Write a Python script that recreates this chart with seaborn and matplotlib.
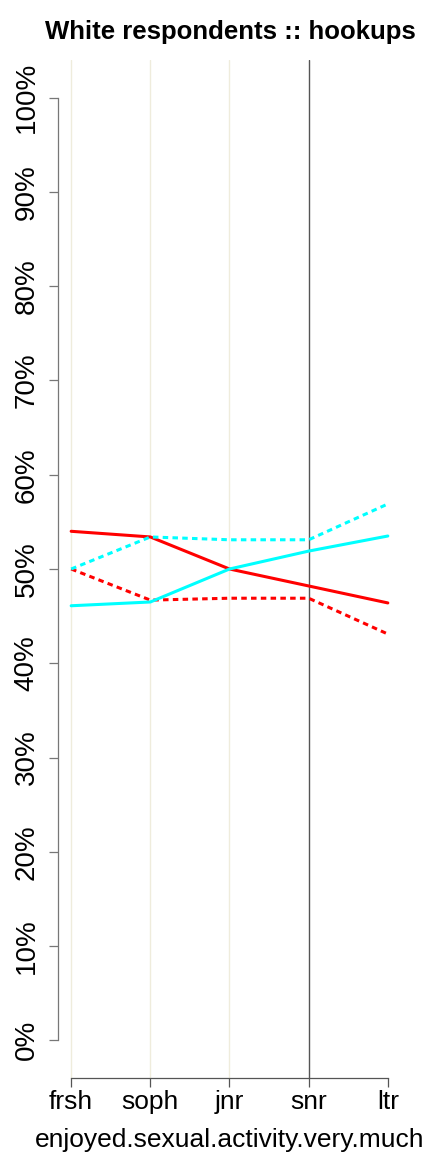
import pandas as pd
import matplotlib
matplotlib.use("Agg")
import matplotlib.pyplot as plt
import seaborn as sns

# Values (percent)
years = ["frsh", "soph", "jnr", "snr", "ltr"]
red_solid = [54.0, 53.4, 50.0, 48.2, 46.4]
red_dotted = [50.0, 46.7, 46.9, 46.9, 43.1]
cyan_solid = [46.1, 46.5, 50.0, 51.9, 53.5]
cyan_dotted = [50.0, 53.4, 53.1, 53.1, 56.9]
y_ticks = [0, 10, 20, 30, 40, 50, 60, 70, 80, 90, 100]

sns.set_style("white")
plt.rcParams["font.family"] = ["Liberation Sans", "DejaVu Sans"]
plt.rcParams["text.color"] = "black"
plt.rcParams["axes.labelcolor"] = "black"
plt.rcParams["xtick.color"] = "black"
plt.rcParams["ytick.color"] = "black"


def main():
    df = pd.concat([
        pd.DataFrame({"year": years, "pct": red_solid, "grp": "red", "kind": "solid"}),
        pd.DataFrame({"year": years, "pct": red_dotted, "grp": "red", "kind": "dotted"}),
        pd.DataFrame({"year": years, "pct": cyan_solid, "grp": "cyan", "kind": "solid"}),
        pd.DataFrame({"year": years, "pct": cyan_dotted, "grp": "cyan", "kind": "dotted"}),
    ])

    fig = plt.figure(figsize=(4.32, 11.52), dpi=100)
    ax = fig.add_axes([58.5 / 432, 74 / 1152, 342 / 432, 1018 / 1152])

    # vertical guide lines
    for i, yr in enumerate(years[:4]):
        col = "#555555" if yr == "snr" else "#efecdc"
        ax.axvline(i, ymin=0, ymax=1, color=col, lw=1.0, zorder=0)

    sns.lineplot(
        data=df, x="year", y="pct", hue="grp", style="kind",
        palette={"red": "#ff0000", "cyan": "#00ffff"},
        dashes={"solid": "", "dotted": (1.8, 1.4)},
        linewidth=2.2, legend=False, sort=False, ax=ax, zorder=3,
    )

    ax.set_xlim(-0.16, 4.16)
    ax.set_ylim(-4, 104)
    ax.set_yticks(y_ticks)
    ax.set_yticklabels([f"{t}%" for t in y_ticks], rotation=90, va="center", fontsize=20)
    ax.set_xticks(range(len(years)))
    ax.set_xticklabels(years, fontsize=19)

    for s in ["top", "right"]:
        ax.spines[s].set_visible(False)
    ax.spines["left"].set_bounds(0, 100)
    ax.spines["bottom"].set_bounds(0, 4)
    ax.spines["left"].set_color("#777777")
    ax.spines["bottom"].set_color("#555555")
    ax.spines["left"].set_linewidth(0.9)
    ax.spines["bottom"].set_linewidth(0.9)
    ax.tick_params(axis="both", length=6.5, width=0.9, direction="out",
                   left=True, bottom=True)
    ax.tick_params(axis="y", color="#777777", pad=7)
    ax.tick_params(axis="x", color="#555555", pad=2)

    ax.set_xlabel("enjoyed.sexual.activity.very.much", fontsize=19, labelpad=10)
    ax.set_ylabel("")
    fig.suptitle("White respondents :: hookups", fontsize=18.5, fontweight="bold",
                 x=230 / 432, y=1 - 32 / 1152, va="center")

    fig.savefig("out.png", dpi=100)


if __name__ == "__main__":
    main()
